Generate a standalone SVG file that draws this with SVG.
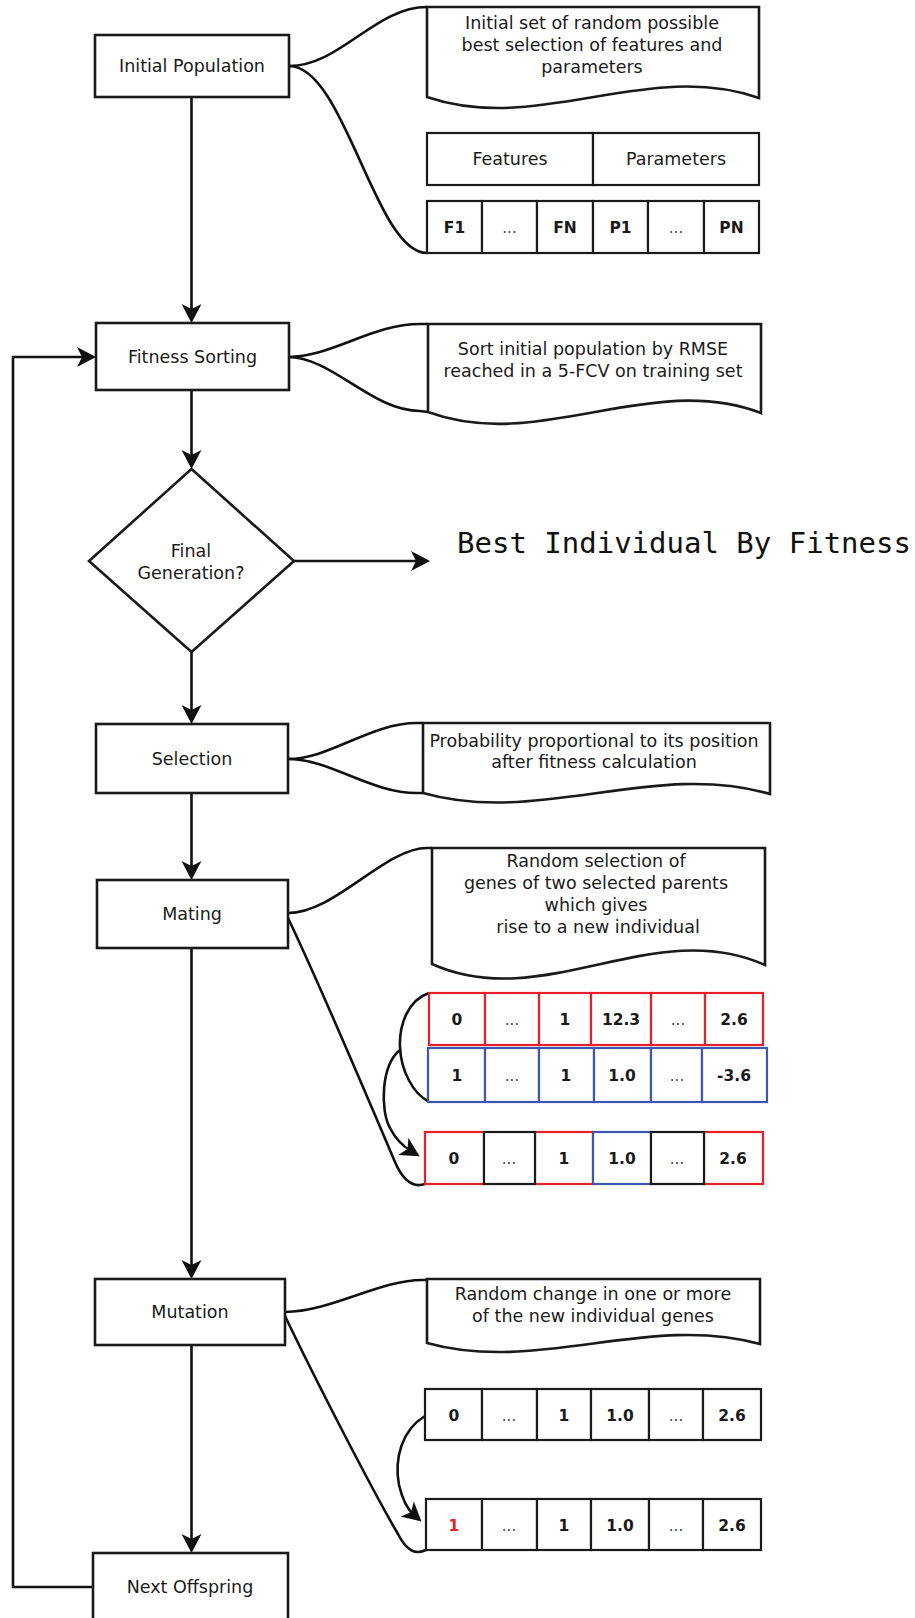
<svg xmlns="http://www.w3.org/2000/svg" width="915" height="1618" viewBox="0 0 915 1618">
<style>
.box{fill:#fff;stroke:#1a1a1a;stroke-width:2.6}
.ln{fill:none;stroke:#111;stroke-width:2.6}
.doc{fill:#fff;stroke:#1a1a1a;stroke-width:2.6;stroke-linejoin:miter}
.t{font-family:"DejaVu Sans","Liberation Sans",sans-serif;font-size:17.5px;text-anchor:middle;fill:#1a1a1a}
.c{font-family:"DejaVu Sans","Liberation Sans",sans-serif;font-size:15.5px;font-weight:bold;text-anchor:middle;fill:#1a1a1a}
.d{font-family:"DejaVu Sans","Liberation Sans",sans-serif;font-size:15px;text-anchor:middle;fill:#444}
.cell{fill:#fff;stroke-width:2.2}
.k{stroke:#1a1a1a}.r{stroke:#e8202a}.b{stroke:#3b57b0}
.mono{font-family:"DejaVu Sans Mono","Liberation Mono",monospace;font-size:29px;fill:#111}
</style>
<defs>
<marker id="ah" markerUnits="userSpaceOnUse" markerWidth="24" markerHeight="24" viewBox="-12 -12 24 24" refX="0" refY="0" orient="auto">
<path d="M10,0 L-9,-10 L-4,0 L-9,10 Z" fill="#111"/>
</marker>
</defs>

<g id="connectors">
<path class="ln" d="M191.5,97 V313" marker-end="url(#ah)"/>
<path class="ln" d="M191.5,390 V459" marker-end="url(#ah)"/>
<path class="ln" d="M294,561 H420" marker-end="url(#ah)"/>
<path class="ln" d="M191.5,652 V714" marker-end="url(#ah)"/>
<path class="ln" d="M191.5,793 V870" marker-end="url(#ah)"/>
<path class="ln" d="M191.5,948 V1269" marker-end="url(#ah)"/>
<path class="ln" d="M191.5,1345 V1543" marker-end="url(#ah)"/>
<path class="ln" d="M93,1587 H13 V357 H86" marker-end="url(#ah)"/>
<!-- callout braces -->
<path class="ln" d="M289,66 C340,66 375,7 427,7"/>
<path class="ln" d="M289,66 C345,66 375,253 427,253"/>
<path class="ln" d="M288,357 C332,357 372,324 420,324 L428,324"/>
<path class="ln" d="M288,357 C332,357 372,411 420,411 L428,412"/>
<path class="ln" d="M288,759 C330,759 370,723 417,723 L423,723"/>
<path class="ln" d="M288,759 C330,759 370,793 417,793 L423,793"/>
<path class="ln" d="M288,913 C335,913 385,848 427,848 L432,848"/>
<path class="ln" d="M288,918 C320,985 375,1115 395,1162 Q407,1190 425,1184"/>
<path class="ln" d="M285,1312 C330,1312 380,1280 422,1280 L427,1280"/>
<path class="ln" d="M285,1316 C318,1385 375,1495 398,1534 Q410,1558 426,1550"/>
<!-- gene arrows -->
<path class="ln" d="M429,993 C408,1000 399,1025 400,1047 C401,1072 414,1094 428,1101"/>
<path class="ln" d="M400,1050 C381,1065 380,1110 390,1128 C395,1138 401,1145 411,1151" marker-end="url(#ah)"/>
<path class="ln" d="M425,1416 C402,1430 394,1458 399,1485 C402,1498 406,1508 414,1515" marker-end="url(#ah)"/>
</g>

<g id="initial-population">
<rect class="box" x="95" y="35" width="194" height="62"/>
<text class="t" x="192" y="72">Initial Population</text>
</g>
<g id="fitness-sorting">
<rect class="box" x="96" y="323" width="193" height="67"/>
<text class="t" x="192.5" y="363">Fitness Sorting</text>
</g>
<g id="final-generation">
<path class="box" d="M191.5,469 L294,561 L191.5,652 L89,561 Z"/>
<text class="t" x="191" y="557">Final</text>
<text class="t" x="191" y="579">Generation?</text>
</g>
<g id="best-individual">
<text class="mono" x="457" y="553">Best Individual By Fitness</text>
</g>
<g id="selection">
<rect class="box" x="96" y="724" width="192" height="69"/>
<text class="t" x="192" y="765">Selection</text>
</g>
<g id="mating">
<rect class="box" x="97" y="880" width="191" height="68"/>
<text class="t" x="192" y="920">Mating</text>
</g>
<g id="mutation">
<rect class="box" x="95" y="1279" width="190" height="66"/>
<text class="t" x="190" y="1318">Mutation</text>
</g>
<g id="next-offspring">
<rect class="box" x="93" y="1553" width="195" height="80"/>
<text class="t" x="190" y="1593">Next Offspring</text>
</g>

<g id="note-initial">
<path class="doc" d="M427,7 H759 V98 C648,59 538,135 427,97 Z"/>
<text class="t" x="592" y="29">Initial set of random possible</text>
<text class="t" x="592" y="51">best selection of features and</text>
<text class="t" x="592" y="73">parameters</text>
</g>
<g id="table-header">
<rect class="cell k" x="427" y="133" width="166" height="52"/>
<rect class="cell k" x="593" y="133" width="166" height="52"/>
<text class="t" x="510" y="165">Features</text>
<text class="t" x="676" y="165">Parameters</text>
</g>
<g id="table-genes">
<rect class="cell k" x="427" y="201" width="55" height="52"/>
<rect class="cell k" x="482" y="201" width="55" height="52"/>
<rect class="cell k" x="537" y="201" width="56" height="52"/>
<rect class="cell k" x="593" y="201" width="55" height="52"/>
<rect class="cell k" x="648" y="201" width="56" height="52"/>
<rect class="cell k" x="704" y="201" width="55" height="52"/>
<text class="c" x="454.5" y="233">F1</text>
<text class="d" x="509.5" y="233">...</text>
<text class="c" x="565" y="233">FN</text>
<text class="c" x="620.5" y="233">P1</text>
<text class="d" x="676" y="233">...</text>
<text class="c" x="731.5" y="233">PN</text>
</g>

<g id="note-fitness">
<path class="doc" d="M428,324 H761 V413 C650,371 539,453 428,412 Z"/>
<text class="t" x="593" y="355">Sort initial population by RMSE</text>
<text class="t" x="593" y="377">reached in a 5-FCV on training set</text>
</g>
<g id="note-selection">
<path class="doc" d="M423,723 H770 V794 C654,760 539,826 423,793 Z"/>
<text class="t" x="594" y="747">Probability proportional to its position</text>
<text class="t" x="594" y="768">after fitness calculation</text>
</g>
<g id="note-mating">
<path class="doc" d="M432,848 H765 V965 C654,915 543,1014 432,964 Z"/>
<text class="t" x="596" y="867">Random selection of</text>
<text class="t" x="596" y="889">genes of two selected parents</text>
<text class="t" x="596" y="911">which gives</text>
<text class="t" x="598" y="933">rise to a new individual</text>
</g>

<g id="parent-red">
<rect class="cell r" x="429" y="993" width="56" height="52"/>
<rect class="cell r" x="485" y="993" width="54" height="52"/>
<rect class="cell r" x="539" y="993" width="52" height="52"/>
<rect class="cell r" x="591" y="993" width="60" height="52"/>
<rect class="cell r" x="651" y="993" width="54" height="52"/>
<rect class="cell r" x="705" y="993" width="58" height="52"/>
<text class="c" x="457" y="1025">0</text>
<text class="d" x="512" y="1025">...</text>
<text class="c" x="565" y="1025">1</text>
<text class="c" x="621" y="1025">12.3</text>
<text class="d" x="678" y="1025">...</text>
<text class="c" x="734" y="1025">2.6</text>
</g>
<g id="parent-blue">
<rect class="cell b" x="428" y="1048" width="57" height="54"/>
<rect class="cell b" x="485" y="1048" width="54" height="54"/>
<rect class="cell b" x="539" y="1048" width="55" height="54"/>
<rect class="cell b" x="594" y="1048" width="57" height="54"/>
<rect class="cell b" x="651" y="1048" width="51" height="54"/>
<rect class="cell b" x="702" y="1048" width="65" height="54"/>
<text class="c" x="457" y="1081">1</text>
<text class="d" x="512" y="1081">...</text>
<text class="c" x="566" y="1081">1</text>
<text class="c" x="622" y="1081">1.0</text>
<text class="d" x="677" y="1081">...</text>
<text class="c" x="734" y="1081">-3.6</text>
</g>
<g id="offspring">
<rect class="cell r" x="425" y="1132" width="59" height="52"/>
<rect class="cell r" x="535" y="1132" width="58" height="52"/>
<rect class="cell r" x="704" y="1132" width="59" height="52"/>
<rect class="cell b" x="593" y="1132" width="58" height="52"/>
<rect class="cell k" x="484" y="1132" width="51" height="52"/>
<rect class="cell k" x="651" y="1132" width="53" height="52"/>
<text class="c" x="454" y="1164">0</text>
<text class="d" x="509" y="1164">...</text>
<text class="c" x="564" y="1164">1</text>
<text class="c" x="622" y="1164">1.0</text>
<text class="d" x="677" y="1164">...</text>
<text class="c" x="733" y="1164">2.6</text>
</g>

<g id="note-mutation">
<path class="doc" d="M427,1279 H760 V1344 C649,1313 538,1374 427,1343 Z"/>
<text class="t" x="593" y="1300">Random change in one or more</text>
<text class="t" x="593" y="1322">of the new individual genes</text>
</g>
<g id="mutation-before">
<rect class="cell k" x="425" y="1389" width="57" height="51"/>
<rect class="cell k" x="482" y="1389" width="55" height="51"/>
<rect class="cell k" x="537" y="1389" width="54" height="51"/>
<rect class="cell k" x="591" y="1389" width="58" height="51"/>
<rect class="cell k" x="649" y="1389" width="54" height="51"/>
<rect class="cell k" x="703" y="1389" width="58" height="51"/>
<text class="c" x="454" y="1421">0</text>
<text class="d" x="509" y="1421">...</text>
<text class="c" x="564" y="1421">1</text>
<text class="c" x="620" y="1421">1.0</text>
<text class="d" x="676" y="1421">...</text>
<text class="c" x="732" y="1421">2.6</text>
</g>
<g id="mutation-after">
<rect class="cell k" x="426" y="1499" width="56" height="51"/>
<rect class="cell k" x="482" y="1499" width="55" height="51"/>
<rect class="cell k" x="537" y="1499" width="54" height="51"/>
<rect class="cell k" x="591" y="1499" width="58" height="51"/>
<rect class="cell k" x="649" y="1499" width="54" height="51"/>
<rect class="cell k" x="703" y="1499" width="58" height="51"/>
<text class="c" x="454" y="1531" style="fill:#e8202a">1</text>
<text class="d" x="509" y="1531">...</text>
<text class="c" x="564" y="1531">1</text>
<text class="c" x="620" y="1531">1.0</text>
<text class="d" x="676" y="1531">...</text>
<text class="c" x="732" y="1531">2.6</text>
</g>
</svg>
